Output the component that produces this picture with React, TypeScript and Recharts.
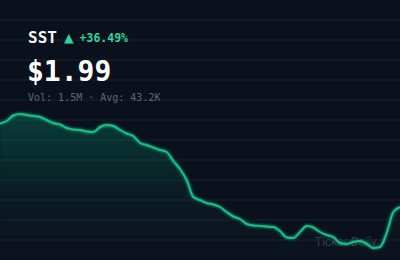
import { AreaChart, Area, XAxis, YAxis, CartesianGrid } from "recharts";

const ticker = "SST";
const changeLabel = "+36.49%";
const priceLabel = "$1.99";
const statsLabel = "Vol: 1.5M · Avg: 43.2K";
const watermark = "Ticker Daily";

const prices = [
  2.825, 2.85, 2.905, 2.92, 2.91, 2.9, 2.89, 2.86, 2.83, 2.815,
  2.78, 2.765, 2.76, 2.745, 2.74, 2.79, 2.81, 2.8, 2.76, 2.725,
  2.7, 2.63, 2.61, 2.585, 2.56, 2.54, 2.45, 2.37, 2.26, 2.09,
  2.06, 2.03, 2.015, 1.99, 1.94, 1.895, 1.87, 1.82, 1.805, 1.8,
  1.795, 1.79, 1.75, 1.685, 1.68, 1.74, 1.8, 1.785, 1.74, 1.71,
  1.69, 1.63, 1.62, 1.64, 1.65, 1.62, 1.58, 1.59, 1.73, 1.94,
  1.99,
];

const data = prices.map((p, i) => ({ t: i, price: p }));

const BG = "#0b111c";
const GREEN = "#16c089";
const MONO = "'DejaVu Sans Mono', monospace";

export default function App() {
  return (
    <div
      style={{
        position: "fixed",
        top: 0,
        left: 0,
        width: 400,
        height: 260,
        background: BG,
        overflow: "hidden",
      }}
    >
      {/* watermark sits under the line */}
      <div
        style={{
          position: "absolute",
          left: 315,
          top: 235,
          fontFamily: "Roboto, sans-serif",
          fontSize: 12,
          color: "#353d4b",
        }}
      >
        {watermark}
      </div>

      <div style={{ position: "absolute", left: 0, top: 0 }}>
        <AreaChart
          width={400}
          height={260}
          data={data}
          margin={{ top: 0, right: 0, bottom: 0, left: 0 }}
        >
          <defs>
            <linearGradient id="fillGrad" x1="0" y1="0" x2="0" y2="1">
              <stop offset="0%" stopColor={GREEN} stopOpacity={0.22} />
              <stop offset="55%" stopColor={GREEN} stopOpacity={0.05} />
              <stop offset="100%" stopColor={GREEN} stopOpacity={0} />
            </linearGradient>
            <filter id="glow" x="-10%" y="-10%" width="120%" height="120%">
              <feGaussianBlur stdDeviation="1.5" result="b" />
              <feMerge>
                <feMergeNode in="b" />
                <feMergeNode in="SourceGraphic" />
              </feMerge>
            </filter>
          </defs>
          <CartesianGrid
            vertical={false}
            stroke="#182030"
            horizontalCoordinatesGenerator={() =>
              [20, 40, 60, 80, 100, 120, 140, 160, 180, 200, 220, 240]
            }
          />
          <XAxis dataKey="t" hide />
          <YAxis hide domain={[1.46, 4.06]} />
          <Area
            type="monotone"
            dataKey="price"
            stroke={GREEN}
            strokeWidth={2}
            fill="url(#fillGrad)"
            baseValue={1.46}
            filter="url(#glow)"
            dot={false}
            activeDot={false}
            isAnimationActive={false}
          />
        </AreaChart>
      </div>

      <div
        style={{
          position: "absolute",
          left: 28,
          top: 28,
          display: "flex",
          alignItems: "center",
          fontFamily: MONO,
        }}
      >
        <span style={{ color: "#f3f4f6", fontWeight: 700, fontSize: 16 }}>
          {ticker}
        </span>
        <span style={{ color: "#34d399", fontSize: 16, marginLeft: 7 }}>▲</span>
        <span
          style={{
            color: "#34d399",
            fontSize: 11.5,
            fontWeight: 700,
            marginLeft: 6,
          }}
        >
          {changeLabel}
        </span>
      </div>

      <div
        style={{
          position: "absolute",
          left: 27,
          top: 55,
          fontFamily: MONO,
          fontWeight: 700,
          fontSize: 28,
          color: "#ffffff",
        }}
      >
        {priceLabel}
      </div>

      <div
        style={{
          position: "absolute",
          left: 28,
          top: 92,
          fontFamily: MONO,
          fontSize: 10,
          color: "#5f6775",
        }}
      >
        {statsLabel}
      </div>
    </div>
  );
}
